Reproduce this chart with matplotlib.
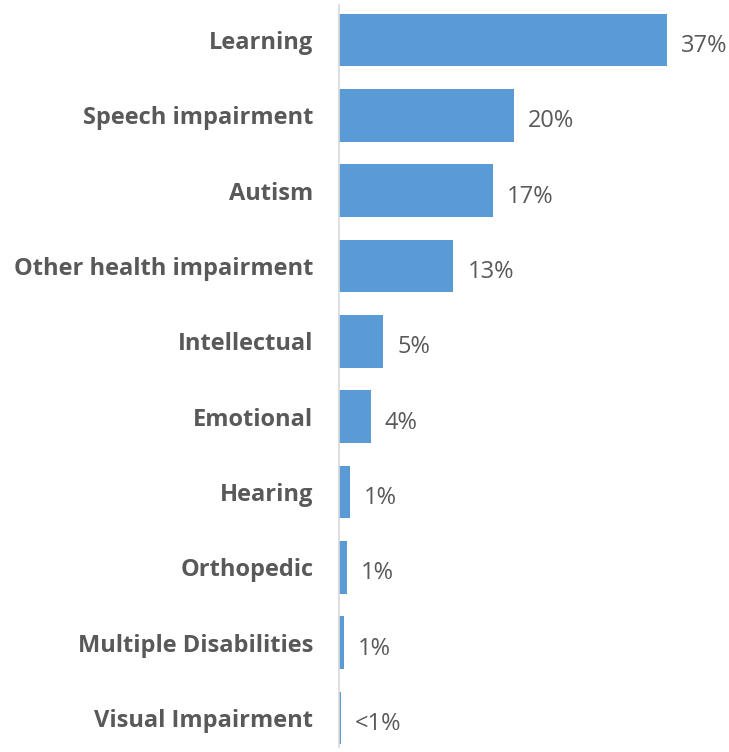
import matplotlib.pyplot as plt
from matplotlib.transforms import offset_copy

categories = ["Learning", "Speech impairment", "Autism", "Other health impairment",
              "Intellectual", "Emotional", "Hearing", "Orthopedic",
              "Multiple Disabilities", "Visual Impairment"]
values = [37.0, 19.7, 17.4, 12.9, 5.0, 3.6, 1.25, 0.9, 0.55, 0.2]
value_labels = ["37%", "20%", "17%", "13%", "5%", "4%", "1%", "1%", "1%", "<1%"]

fig = plt.figure(figsize=(7.29, 7.52), dpi=100)
ax = fig.add_axes([339/729, 0, 1 - 339/729, 1])

ypos = list(range(len(categories)))
ax.barh(ypos, values, height=0.7, color="#5b9bd5", edgecolor="none")

ax.set_xlim(0, 44)
ax.set_ylim(9.451, -0.531)

trans = offset_copy(ax.transData, fig=fig, x=14, y=-6, units="dots")
for y, v, lab in zip(ypos, values, value_labels):
    ax.text(v, y, lab, transform=trans, ha="left", va="center",
            fontsize=17, family="Open Sans", color="#595959")

ax.set_yticks(ypos)
ax.set_yticklabels(categories, fontsize=17, family="Open Sans",
                   fontweight="bold", color="#595959")
ax.tick_params(axis="y", length=0, pad=18.5)
ax.set_xticks([])
for s in ["top", "right", "bottom"]:
    ax.spines[s].set_visible(False)
ax.spines["left"].set_color("#d9d9d9")
ax.spines["left"].set_linewidth(1.2)
ax.spines["left"].set_bounds(-0.47, 9.39)

fig.savefig("out.png", dpi=100)
